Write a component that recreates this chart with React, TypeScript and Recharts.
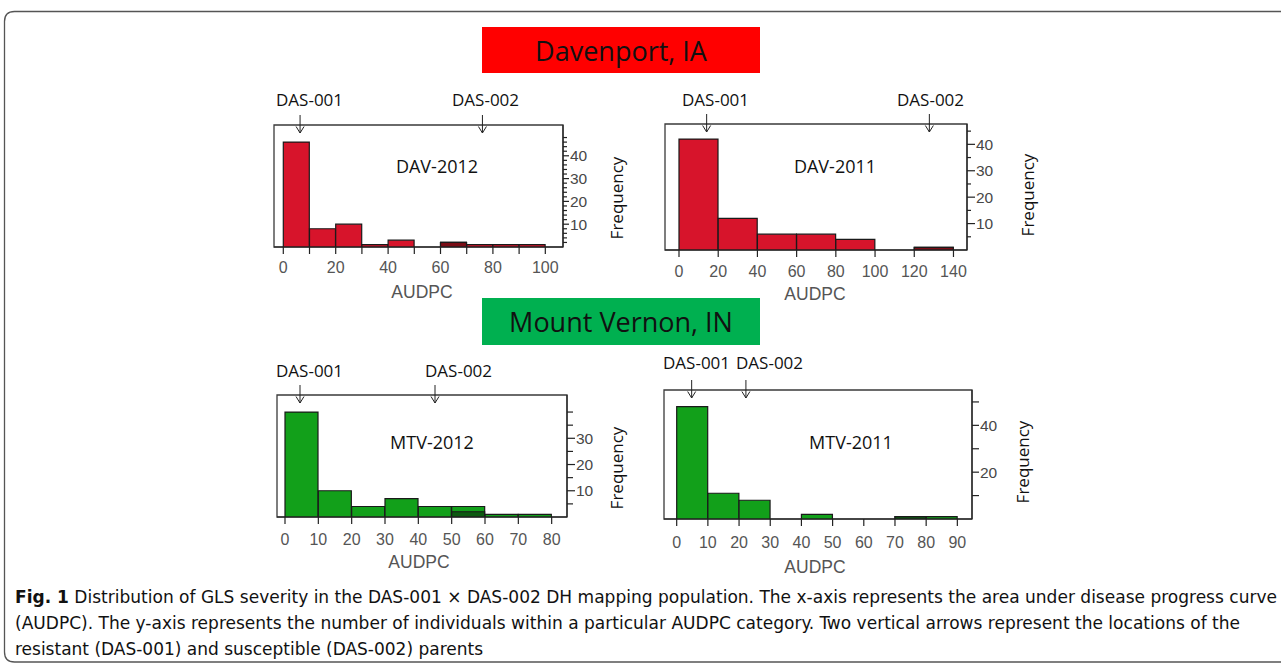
import React from 'react';
import { ComposedChart, Bar, Scatter, XAxis, YAxis, ReferenceArea } from 'recharts';

// ---------- DATA ----------
// DAV-2012
const dav2012Edges = [0, 10, 20, 30, 40, 50, 60, 70, 80, 90, 100];
const dav2012Counts = [46, 8, 10, 1, 3, 0, 2, 1, 1, 1];
const dav2012Overlap = [0, 0, 0, 0, 0, 0, 2, 0, 0, 0];
const dav2012XTicks = [0, 10, 20, 30, 40, 50, 60, 70, 80, 90, 100];
const dav2012XLabels = [0, 20, 40, 60, 80, 100];
const dav2012YTicks = [2, 4, 6, 8, 10, 12, 14, 16, 18, 20, 22, 24, 26, 28, 30, 32, 34, 36, 38, 40, 42, 44, 46, 48];
const dav2012YLabels = [10, 20, 30, 40];
const dav2012Parents = [6.4, 76];

// DAV-2011
const dav2011Edges = [0, 20, 40, 60, 80, 100, 120, 140];
const dav2011Counts = [42, 12, 6, 6, 4, 0, 1];
const dav2011Overlap = [0, 0, 0, 0, 0, 0, 1];
const dav2011XTicks = [0, 20, 40, 60, 80, 100, 120, 140];
const dav2011XLabels = [0, 20, 40, 60, 80, 100, 120, 140];
const dav2011YTicks = [5, 10, 15, 20, 25, 30, 35, 40, 45];
const dav2011YLabels = [10, 20, 30, 40];
const dav2011Parents = [14.1, 127.7];

// MTV-2012
const mtv2012Edges = [0, 10, 20, 30, 40, 50, 60, 70, 80];
const mtv2012Counts = [40, 10, 4, 7, 4, 4, 1, 1];
const mtv2012Overlap = [0, 0, 0, 0, 0, 2, 0, 0];
const mtv2012XTicks = [0, 10, 20, 30, 40, 50, 60, 70, 80];
const mtv2012XLabels = [0, 10, 20, 30, 40, 50, 60, 70, 80];
const mtv2012YTicks = [5, 10, 15, 20, 25, 30, 35, 40];
const mtv2012YLabels = [10, 20, 30];
const mtv2012Parents = [4.5, 45];

// MTV-2011
const mtv2011Edges = [0, 10, 20, 30, 40, 50, 60, 70, 80, 90];
const mtv2011Counts = [48, 11, 8, 0, 2, 0, 0, 1, 1];
const mtv2011Overlap = [0, 0, 0, 0, 0, 0, 0, 1, 0];
const mtv2011XTicks = [0, 10, 20, 30, 40, 50, 60, 70, 80, 90];
const mtv2011XLabels = [0, 10, 20, 30, 40, 50, 60, 70, 80, 90];
const mtv2011YTicks = [10, 20, 30, 40, 50];
const mtv2011YLabels = [20, 40];
const mtv2011Parents = [4.8, 22.2];

const parentNames = ['DAS-001', 'DAS-002'];

// ---------- STYLE ----------
const RED = '#d7142b';
const RED_DARK = '#7a0d16';
const GREEN = '#12a01a';
const GREEN_DARK = '#0c5a10';
const LABEL_FONT = "'Open Sans', 'Noto Sans', sans-serif";
const AXIS_FONT = "'Liberation Sans', Arial, sans-serif";

type Panel = {
  name: string;
  edges: number[];
  counts: number[];
  overlap: number[];
  xTicks: number[];
  xLabels: number[];
  yTicks: number[];
  yLabels: number[];
  parents: number[];
  box: { L: number; T: number; R: number; B: number };
  xDomain: [number, number];
  yDomain: [number, number];
  fill: string;
  dark: string;
  majorLen: number;
  minorLen: number;
  xLabelOff: number;
};

const panels: Panel[] = [
  {
    name: 'DAV-2012', edges: dav2012Edges, counts: dav2012Counts, overlap: dav2012Overlap,
    xTicks: dav2012XTicks, xLabels: dav2012XLabels, yTicks: dav2012YTicks, yLabels: dav2012YLabels,
    parents: dav2012Parents,
    box: { L: 274, T: 125, R: 563, B: 247 }, xDomain: [-3.55, 106.75], yDomain: [0, 53.5],
    fill: RED, dark: RED_DARK, majorLen: 6, minorLen: 4, xLabelOff: 26,
  },
  {
    name: 'DAV-2011', edges: dav2011Edges, counts: dav2011Counts, overlap: dav2011Overlap,
    xTicks: dav2011XTicks, xLabels: dav2011XLabels, yTicks: dav2011YTicks, yLabels: dav2011YLabels,
    parents: dav2011Parents,
    box: { L: 665, T: 124, R: 967, B: 250 }, xDomain: [-7.14, 146.9], yDomain: [0, 47.7],
    fill: RED, dark: RED_DARK, majorLen: 8, minorLen: 4, xLabelOff: 27,
  },
  {
    name: 'MTV-2012', edges: mtv2012Edges, counts: mtv2012Counts, overlap: mtv2012Overlap,
    xTicks: mtv2012XTicks, xLabels: mtv2012XLabels, yTicks: mtv2012YTicks, yLabels: mtv2012YLabels,
    parents: mtv2012Parents,
    box: { L: 277, T: 395, R: 567, B: 517 }, xDomain: [-2.4, 84.6], yDomain: [0, 46.5],
    fill: GREEN, dark: GREEN_DARK, majorLen: 8, minorLen: 6, xLabelOff: 28,
  },
  {
    name: 'MTV-2011', edges: mtv2011Edges, counts: mtv2011Counts, overlap: mtv2011Overlap,
    xTicks: mtv2011XTicks, xLabels: mtv2011XLabels, yTicks: mtv2011YTicks, yLabels: mtv2011YLabels,
    parents: mtv2011Parents,
    box: { L: 664, T: 390, R: 972, B: 519 }, xDomain: [-4.07, 94.7], yDomain: [0, 55.1],
    fill: GREEN, dark: GREEN_DARK, majorLen: 7, minorLen: 7, xLabelOff: 28.5,
  },
];

const M_LEFT = 20;
const M_TOP = 25;
const AX_W = 45;
const AX_H = 40;

function Histogram({ p }: { p: Panel }) {
  const W = p.box.R - p.box.L;
  const H = p.box.B - p.box.T;
  const unit = W / (p.xDomain[1] - p.xDomain[0]);
  const first = p.edges[0];
  const last = p.edges[p.edges.length - 1];
  const padL = (first - p.xDomain[0]) * unit;
  const padR = (p.xDomain[1] - last) * unit;
  const data = p.counts.map((c, i) => ({
    bin: `${p.edges[i]}-${p.edges[i + 1]}`,
    count: c,
    overlap: p.overlap[i],
  }));
  const parentData = p.parents.map((v, i) => ({ name: parentNames[i], x: v, y: p.yDomain[1] }));

  const xTick = (props: any) => {
    const { x, y, payload } = props;
    const v = payload.value;
    return (
      <g>
        <line x1={x} y1={y} x2={x} y2={y + 7} stroke="#222" strokeWidth={1.2} />
        {p.xLabels.includes(v) && (
          <text x={x} y={y + p.xLabelOff} textAnchor="middle" fontSize={16} fill="#555" fontFamily={AXIS_FONT}>
            {v}
          </text>
        )}
      </g>
    );
  };

  const yTick = (props: any) => {
    const { x, y, payload } = props;
    const v = payload.value;
    const major = p.yLabels.includes(v);
    const len = major ? p.majorLen : p.minorLen;
    return (
      <g>
        <line x1={x} y1={y} x2={x + len} y2={y} stroke="#222" strokeWidth={1.2} />
        {major && (
          <text x={x + len + 1} y={y} dy="0.36em" textAnchor="start" fontSize={15.5} fill="#474747" fontFamily={AXIS_FONT}>
            {v}
          </text>
        )}
      </g>
    );
  };

  const arrow = (props: any) => {
    const { cx, cy } = props;
    if (cx == null || cy == null) return <g />;
    return (
      <g stroke="#222" strokeWidth={1} fill="none">
        <line x1={cx} y1={cy - 10} x2={cx} y2={cy + 8} />
        <polyline points={`${cx - 4},${cy + 1.5} ${cx},${cy + 8} ${cx + 4},${cy + 1.5}`} />
      </g>
    );
  };

  return (
    <div style={{ position: 'absolute', left: p.box.L - M_LEFT, top: p.box.T - M_TOP }}>
      <ComposedChart
        width={M_LEFT + W + AX_W}
        height={M_TOP + H + AX_H}
        data={data}
        margin={{ top: M_TOP, left: M_LEFT, right: 0, bottom: 0 }}
        barCategoryGap={0}
        barGap={0}
      >
        <XAxis
          xAxisId="num"
          dataKey="x"
          type="number"
          domain={p.xDomain}
          ticks={p.xTicks}
          interval={0}
          height={AX_H}
          tickSize={0}
          tickMargin={0}
          tickLine={false}
          axisLine={{ stroke: '#222', strokeWidth: 1.2 }}
          tick={xTick}
        />
        <XAxis xAxisId="cat" dataKey="bin" type="category" hide height={0} padding={{ left: padL, right: padR }} />
        <XAxis xAxisId="cat2" dataKey="bin" type="category" hide height={0} padding={{ left: padL, right: padR }} />
        <YAxis
          yAxisId="y"
          orientation="right"
          type="number"
          width={AX_W}
          domain={p.yDomain}
          allowDataOverflow
          ticks={p.yTicks}
          interval={0}
          tickSize={0}
          tickMargin={0}
          tickLine={false}
          axisLine={{ stroke: '#222', strokeWidth: 1.2 }}
          tick={yTick}
        />
        <YAxis yAxisId="arrowY" dataKey="y" type="number" hide width={0} domain={p.yDomain} />
        <ReferenceArea
          xAxisId="num"
          yAxisId="y"
          x1={p.xDomain[0]}
          x2={p.xDomain[1]}
          y1={p.yDomain[0]}
          y2={p.yDomain[1]}
          fill="none"
          fillOpacity={0}
          stroke="#3a3a3a"
          strokeWidth={1.3}
          ifOverflow="visible"
        />
        <Bar xAxisId="cat" yAxisId="y" dataKey="count" fill={p.fill} stroke="#1a1a1a" strokeWidth={1.2} isAnimationActive={false} />
        <Bar xAxisId="cat2" yAxisId="y" dataKey="overlap" fill={p.dark} stroke="#1a1a1a" strokeWidth={1.2} isAnimationActive={false} />
        <Scatter
          name="parents"
          xAxisId="num"
          yAxisId="arrowY"
          data={parentData}
          dataKey="y"
          shape={arrow}
          isAnimationActive={false}
        />
      </ComposedChart>
    </div>
  );
}

// text annotations positioned on the page
const panelText = [
  { das1: [276, 106], das2: [452, 106], title: [437, 173], freq: [616, 198], audpc: [422, 298] },
  { das1: [682, 106], das2: [897, 106], title: [835, 173], freq: [1027, 195], audpc: [815, 300] },
  { das1: [276, 376.5], das2: [425, 376.5], title: [432, 449], freq: [616, 468], audpc: [419, 568] },
  { das1: [663, 369], das2: [736, 369], title: [851, 449], freq: [1022, 462], audpc: [815, 572.5] },
];

const captionLine1Rest = ' Distribution of GLS severity in the DAS-001 × DAS-002 DH mapping population. The x-axis represents the area under disease progress curve';
const captionLine2 = '(AUDPC). The y-axis represents the number of individuals within a particular AUDPC category. Two vertical arrows represent the locations of the';
const captionLine3 = 'resistant (DAS-001) and susceptible (DAS-002) parents';
const CAPTION_FONT = "'Liberation Sans Narrow', 'DejaVu Sans Condensed', 'Open Sans', sans-serif";

export default function App() {
  return (
    <div style={{ position: 'absolute', left: 0, top: 0, width: 1281, height: 669, background: '#fff', overflow: 'hidden' }}>
      <svg width={1281} height={669} style={{ position: 'absolute', left: 0, top: 0 }}>
        <path
          d="M 1290 11.5 L 14.5 11.5 Q 4.5 11.5 4.5 21.5 L 4.5 652 Q 4.5 662 14.5 662 L 1290 662"
          fill="none"
          stroke="#555"
          strokeWidth={1.3}
        />
        <rect x={482} y={27} width={278} height={46} fill="#ff0000" />
        <text x={621} y={61} textAnchor="middle" fontSize={27} fontFamily={LABEL_FONT} fill="#111">
          Davenport, IA
        </text>
        <rect x={482} y={298} width={278} height={47} fill="#00b050" />
        <text x={621} y={332} textAnchor="middle" fontSize={27} fontFamily={LABEL_FONT} fill="#111">
          Mount Vernon, IN
        </text>
        {panels.map((p, i) => {
          const t = panelText[i];
          return (
            <g key={p.name}>
              <text x={t.das1[0]} y={t.das1[1]} fontSize={17} fontFamily={LABEL_FONT} fill="#111">{parentNames[0]}</text>
              <text x={t.das2[0]} y={t.das2[1]} fontSize={17} fontFamily={LABEL_FONT} fill="#111">{parentNames[1]}</text>
              <text x={t.title[0]} y={t.title[1]} textAnchor="middle" fontSize={18} fontFamily={LABEL_FONT} fill="#111">{p.name}</text>
              <text
                x={t.freq[0]}
                y={t.freq[1]}
                textAnchor="middle"
                dominantBaseline="central"
                transform={`rotate(-90 ${t.freq[0]} ${t.freq[1]})`}
                fontSize={17}
                fontFamily={LABEL_FONT}
                fill="#111"
              >
                Frequency
              </text>
              <text x={t.audpc[0]} y={t.audpc[1]} textAnchor="middle" fontSize={17.5} fontFamily={AXIS_FONT} fill="#555">
                AUDPC
              </text>
            </g>
          );
        })}
        <text x={15} y={603} fontSize={17} fontFamily={CAPTION_FONT} fill="#111" textLength={1262} lengthAdjust="spacingAndGlyphs">
          <tspan fontWeight={700}>Fig. 1</tspan>
          {captionLine1Rest}
        </text>
        <text x={15} y={629} fontSize={17} fontFamily={CAPTION_FONT} fill="#111" textLength={1225} lengthAdjust="spacingAndGlyphs">
          {captionLine2}
        </text>
        <text x={15} y={655} fontSize={17} fontFamily={CAPTION_FONT} fill="#111" textLength={468} lengthAdjust="spacingAndGlyphs">
          {captionLine3}
        </text>
      </svg>
      {panels.map((p) => (
        <Histogram key={p.name} p={p} />
      ))}
    </div>
  );
}
